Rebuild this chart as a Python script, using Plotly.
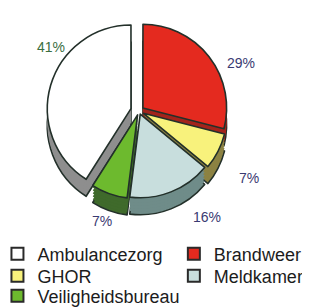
import plotly.graph_objects as go

# ---- data ----
categories = ["Brandweer", "GHOR", "Meldkamer", "Veiligheidsbureau", "Ambulancezorg"]
values = [29, 7, 16, 7, 41]
legend_items = ["Ambulancezorg", "Brandweer", "GHOR", "Meldkamer", "Veiligheidsbureau"]

# ---- styles ----
top_colors = {"Brandweer": "#e42a1f", "GHOR": "#f8f27c", "Meldkamer": "#c8dedd",
              "Veiligheidsbureau": "#6dba2e", "Ambulancezorg": "#ffffff"}
side_colors = {"Brandweer": "#a3241c", "GHOR": "#8c8242", "Meldkamer": "#6f8c89",
               "Veiligheidsbureau": "#3f6a2b", "Ambulancezorg": "#8e8e8e"}
pulls = [0.06, 0.06, 0.04, 0.05, 0.10]
label_colors = ["#3a3a72", "#3a3a72", "#3a3a72", "#3a3a72", "#3b6e3f"]
label_pos = [(249, 45), (253, 170), (199, 219), (82, 223), (27, 29)]  # px
legend_pos = [(-0.034, 246), (0.535, 246), (-0.034, 268), (0.535, 268), (-0.034, 288)]

W, H = 310, 308
cx, cy = 131, 103
size = 184
depth = 17
edge = "#23302a"


def dom(dy):
    return dict(x=[(cx - size / 2) / W, (cx + size / 2) / W],
                y=[1 - (cy + dy + size / 2) / H, 1 - (cy + dy - size / 2) / H])


fig = go.Figure()

# side (depth) layers
for i, dy in enumerate(range(depth, 0, -3)):
    fig.add_trace(go.Pie(
        labels=categories, values=values, sort=False, direction="clockwise",
        rotation=0, pull=pulls, domain=dom(dy), textinfo="none", hoverinfo="skip",
        showlegend=False,
        marker=dict(colors=[side_colors[c] for c in categories],
                    line=dict(color=edge if i == 0 else "rgba(0,0,0,0)",
                              width=1.6 if i == 0 else 0)),
    ))

# top face
fig.add_trace(go.Pie(
    labels=categories, values=values, sort=False, direction="clockwise",
    rotation=0, pull=pulls, domain=dom(0), textinfo="none", hoverinfo="skip",
    showlegend=False,
    marker=dict(colors=[top_colors[c] for c in categories],
                line=dict(color=edge, width=1.6)),
))

# legend entries, one legend per entry to control the grid
legend_style = dict(yanchor="middle", xanchor="left", bgcolor="rgba(0,0,0,0)",
                    font=dict(family="Liberation Sans", size=18, color="#1c1c1c"),
                    tracegroupgap=0, itemsizing="constant", orientation="v")
legend_layout = {}
for k, (name, (lx, ly)) in enumerate(zip(legend_items, legend_pos)):
    key = "legend" if k == 0 else f"legend{k + 1}"
    fig.add_trace(go.Scatter(
        x=[None], y=[None], mode="markers", name=name, legend=key,
        marker=dict(symbol="square", size=12, color=top_colors[name],
                    line=dict(color="#2a2a2a", width=1.4)),
    ))
    legend_layout[key] = dict(x=lx, y=1 - ly / H, **legend_style)

annotations = []
for v, (px, py), col in zip(values, label_pos, label_colors):
    annotations.append(dict(
        x=px / W, y=1 - py / H, xref="paper", yref="paper", showarrow=False,
        text=f"{v}%", font=dict(family="Liberation Sans", size=14, color=col),
    ))

fig.update_layout(
    width=W, height=H,
    margin=dict(l=0, r=0, t=0, b=0, autoexpand=False),
    paper_bgcolor="#ffffff", plot_bgcolor="#ffffff",
    xaxis=dict(visible=False), yaxis=dict(visible=False),
    annotations=annotations,
    **legend_layout,
)

fig.write_html("out.html")
